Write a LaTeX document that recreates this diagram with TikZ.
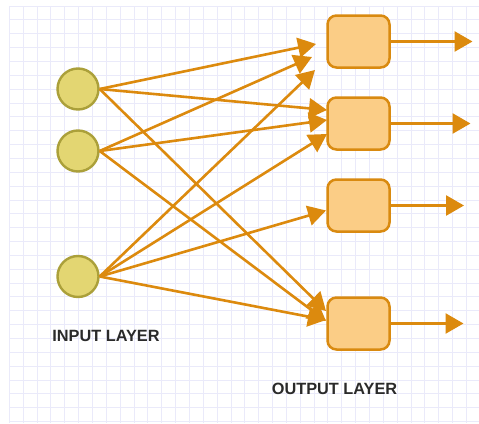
\documentclass[tikz,border=0pt]{standalone}
\usepackage{fontspec}
\setmainfont{Liberation Sans}
\usetikzlibrary{arrows.meta}
\definecolor{gridc}{HTML}{EAEAFA}
\definecolor{linec}{HTML}{DC8A0E}
\definecolor{boxfill}{HTML}{FBCD86}
\definecolor{boxline}{HTML}{D98A10}
\definecolor{cirfill}{HTML}{E3D672}
\definecolor{cirline}{HTML}{ABA03A}
\definecolor{txt}{HTML}{2A2A2A}
\begin{document}
\begin{tikzpicture}[x=1pt,y=-1pt,
  neuron/.style={circle,draw=cirline,fill=cirfill,line width=2.4pt,minimum size=41pt,inner sep=0pt},
  outbox/.style={rectangle,rounded corners=9pt,draw=boxline,fill=boxfill,line width=2.5pt,minimum width=62pt,minimum height=52pt,inner sep=0pt},
  conn/.style={draw=linec,line width=2.6pt,-{Triangle[length=18pt,width=20pt]},fill=linec},
  label/.style={font=\fontsize{16.3}{19}\selectfont\bfseries,text=txt,inner sep=0pt}]
\useasboundingbox (0,0) rectangle (479,423);
\fill[white] (0,0) rectangle (479,423);
% grid
\foreach \i in {0,...,34} {\draw[gridc,line width=0.8pt] (9.3+13.85*\i,6) -- (9.3+13.85*\i,423);}
\foreach \j in {0,...,30} {\draw[gridc,line width=0.8pt] (9.3,6+13.85*\j) -- (479,6+13.85*\j);}
% nodes
\node[neuron] (i1) at (78,89) {};
\node[neuron] (i2) at (78,151) {};
\node[neuron] (i3) at (78,276.5) {};
\node[outbox] (o1) at (358.5,41.5) {};
\node[outbox] (o2) at (358.5,123.5) {};
\node[outbox] (o3) at (358.5,205.5) {};
\node[outbox] (o4) at (358.5,323.5) {};
\node[label] (lin) at (106,335.5) {INPUT LAYER};
\node[label] (lout) at (334.5,388.5) {OUTPUT LAYER};
% free ends
\coordinate (t11) at (316,44);
\coordinate (t21) at (312,57);
\coordinate (t31) at (315,70);
\coordinate (t12) at (327,110);
\coordinate (t22) at (327,120);
\coordinate (t32) at (327,134);
\coordinate (t33) at (326,210.5);
\coordinate (t14) at (326,311);
\coordinate (t24) at (326,321);
\coordinate (t34) at (326,320);
\coordinate (e1) at (472.5,41.5);
\coordinate (e2) at (470.5,123.5);
\coordinate (e3) at (464,205.5);
\coordinate (e4) at (463.5,323.5);
% connectors
\draw[conn] (i1.east) -- (t11);
\draw[conn] (i1.east) -- (t12);
\draw[conn] (i1.east) -- (t14);
\draw[conn] (i2.east) -- (t21);
\draw[conn] (i2.east) -- (t22);
\draw[conn] (i2.east) -- (t24);
\draw[conn] (i3.east) -- (t31);
\draw[conn] (i3.east) -- (t32);
\draw[conn] (i3.east) -- (t33);
\draw[conn] (i3.east) -- (t34);
\draw[conn] (o1.east) -- (e1);
\draw[conn] (o2.east) -- (e2);
\draw[conn] (o3.east) -- (e3);
\draw[conn] (o4.east) -- (e4);
\end{tikzpicture}
\end{document}
